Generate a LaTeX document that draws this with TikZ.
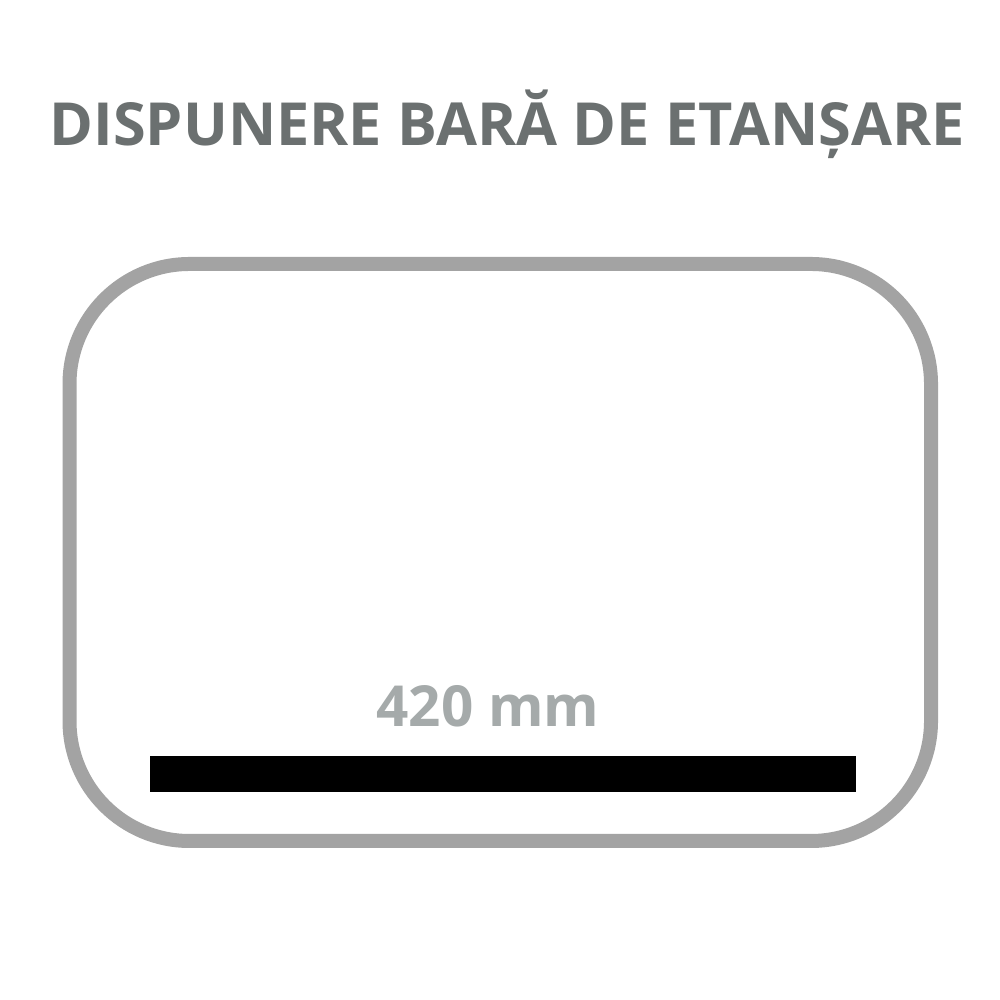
\documentclass[tikz,border=0pt]{standalone}
\usepackage{fontspec}
\setmainfont{Open Sans}
\usetikzlibrary{positioning}
\definecolor{titlegray}{HTML}{6B7070}
\definecolor{labelgray}{HTML}{A5AAAA}
\definecolor{framegray}{HTML}{A3A3A3}

\begin{document}
\begin{tikzpicture}
\useasboundingbox[fill=white] (0,0) rectangle (10,10);
\node[font=\fontsize{16.9}{18}\selectfont\bfseries,text=titlegray,anchor=base] (title) at (5.07,8.54) {DISPUNERE BARĂ DE ETANȘARE};

\draw[draw=framegray,line width=0.14cm,rounded corners=1.2cm] (0.695,7.36) rectangle (9.31,1.59);
\draw[fill=black,draw=none] (1.50,2.44) rectangle (8.56,2.08);
\node[font=\fontsize{16.1}{18}\selectfont\bfseries,text=labelgray,anchor=base] (len) at (4.88,2.73) {420 mm};

\end{tikzpicture}
\end{document}
